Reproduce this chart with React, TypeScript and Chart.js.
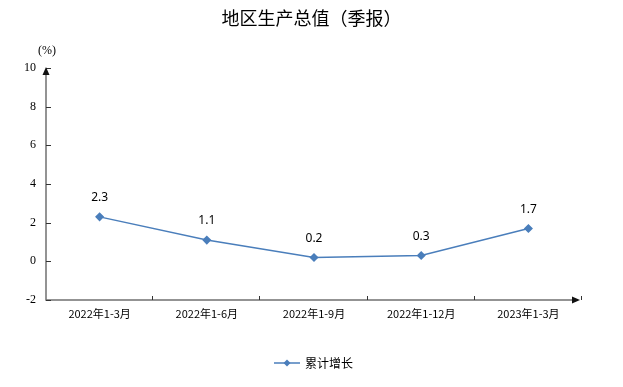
import React, { useEffect, useRef } from "react";
import { Chart, registerables } from "chart.js";

Chart.register(...registerables);

const categories = ["2022年1-3月", "2022年1-6月", "2022年1-9月", "2022年1-12月", "2023年1-3月"];
const seriesName = "累计增长";
const growth = [2.3, 1.1, 0.2, 0.3, 1.7];
const yTicks = [-2, 0, 2, 4, 6, 8, 10];
const titleText = "地区生产总值（季报）";
const unitText = "(%)";

const LINE_COLOR = "#4a7ebb";
const AXIS_COLOR = "#707070";
const CJK = '"Noto Sans CJK SC", "Noto Sans", sans-serif';

function diamond(ctx: CanvasRenderingContext2D, x: number, y: number, r: number) {
  ctx.beginPath();
  ctx.moveTo(x, y - r);
  ctx.lineTo(x + r, y);
  ctx.lineTo(x, y + r);
  ctx.lineTo(x - r, y);
  ctx.closePath();
  ctx.fill();
}

const decorPlugin = {
  id: "decor",
  afterDatasetsDraw(chart: any) {
    const ctx: CanvasRenderingContext2D = chart.ctx;
    const { left, right, top, bottom } = chart.chartArea;
    const ys = chart.scales.y;
    ctx.save();
    // axes
    ctx.strokeStyle = AXIS_COLOR;
    ctx.lineWidth = 1.5;
    ctx.beginPath();
    ctx.moveTo(left, top + 2);
    ctx.lineTo(left, bottom);
    ctx.lineTo(right - 4, bottom);
    ctx.stroke();
    ctx.lineWidth = 1;
    ctx.strokeStyle = "#333";
    // y ticks
    ctx.beginPath();
    for (const v of yTicks) {
      const y = Math.round(ys.getPixelForValue(v)) + 0.5;
      ctx.moveTo(left, y);
      ctx.lineTo(left + 5, y);
    }
    // x ticks at category boundaries
    const n = categories.length;
    const w = (right - left) / n;
    for (let i = 1; i <= n; i++) {
      const x = Math.round(left + w * i) - 0.5;
      ctx.moveTo(x, bottom);
      ctx.lineTo(x, bottom - 4);
    }
    ctx.stroke();
    // arrows
    ctx.fillStyle = "#111";
    ctx.beginPath();
    ctx.moveTo(left, top - 1);
    ctx.lineTo(left + 3.5, top + 7);
    ctx.lineTo(left - 3.5, top + 7);
    ctx.closePath();
    ctx.fill();
    ctx.beginPath();
    ctx.moveTo(right - 2, bottom);
    ctx.lineTo(right - 10, bottom - 3.5);
    ctx.lineTo(right - 10, bottom + 3.5);
    ctx.closePath();
    ctx.fill();
    // data labels
    const meta = chart.getDatasetMeta(0);
    ctx.fillStyle = "#000";
    ctx.font = '12px "Noto Sans", sans-serif';
    ctx.textAlign = "center";
    ctx.textBaseline = "middle";
    meta.data.forEach((pt: any, i: number) => {
      ctx.fillText(growth[i].toFixed(1), pt.x, pt.y - 19);
    });
    // title
    ctx.font = "18px " + CJK;
    ctx.fillText(titleText, chart.width / 2, 18);
    // unit
    ctx.font = '12px "Liberation Serif", serif';
    ctx.fillText(unitText, 47, 51);
    // legend
    const ly = 363;
    ctx.strokeStyle = LINE_COLOR;
    ctx.lineWidth = 1.5;
    ctx.beginPath();
    ctx.moveTo(274, ly);
    ctx.lineTo(300, ly);
    ctx.stroke();
    ctx.fillStyle = LINE_COLOR;
    diamond(ctx, 287, ly, 3.5);
    ctx.fillStyle = "#000";
    ctx.font = "12px " + CJK;
    ctx.textAlign = "left";
    ctx.fillText(seriesName, 305, ly);
    ctx.restore();
  },
};

export default function App() {
  const ref = useRef<HTMLCanvasElement | null>(null);
  useEffect(() => {
    if (!ref.current) return;
    const chart = new Chart(ref.current, {
      type: "line",
      data: {
        labels: categories,
        datasets: [
          {
            label: seriesName,
            data: growth,
            borderColor: LINE_COLOR,
            backgroundColor: LINE_COLOR,
            borderWidth: 1.5,
            pointStyle: "rectRot",
            pointRadius: 3.5,
            pointHoverRadius: 3.5,
            tension: 0,
          },
        ],
      },
      options: {
        animation: false,
        responsive: false,
        maintainAspectRatio: false,
        layout: { padding: { top: 68, right: 41, bottom: 57, left: 0 } },
        plugins: { legend: { display: false }, title: { display: false }, tooltip: { enabled: false } },
        scales: {
          x: {
            offset: true,
            grid: { display: false },
            border: { display: false },
            ticks: { color: "#000", font: { size: 11, family: CJK }, padding: -1, maxRotation: 0, autoSkip: false },
            afterFit: (s: any) => { s.height = 30; },
          },
          y: {
            min: -2,
            max: 10,
            grid: { display: false },
            border: { display: false },
            ticks: {
              stepSize: 2,
              color: "#000",
              font: { size: 12, family: '"Liberation Serif", serif' },
              padding: 2,
            },
            afterFit: (s: any) => { s.width = 46; },
          },
        },
      },
      plugins: [decorPlugin],
    });
    return () => chart.destroy();
  }, []);
  return (
    <div style={{ position: "fixed", left: 0, top: 0, width: 623, height: 387, background: "#fff" }}>
      <canvas ref={ref} width={623} height={387} style={{ display: "block" }} />
    </div>
  );
}
